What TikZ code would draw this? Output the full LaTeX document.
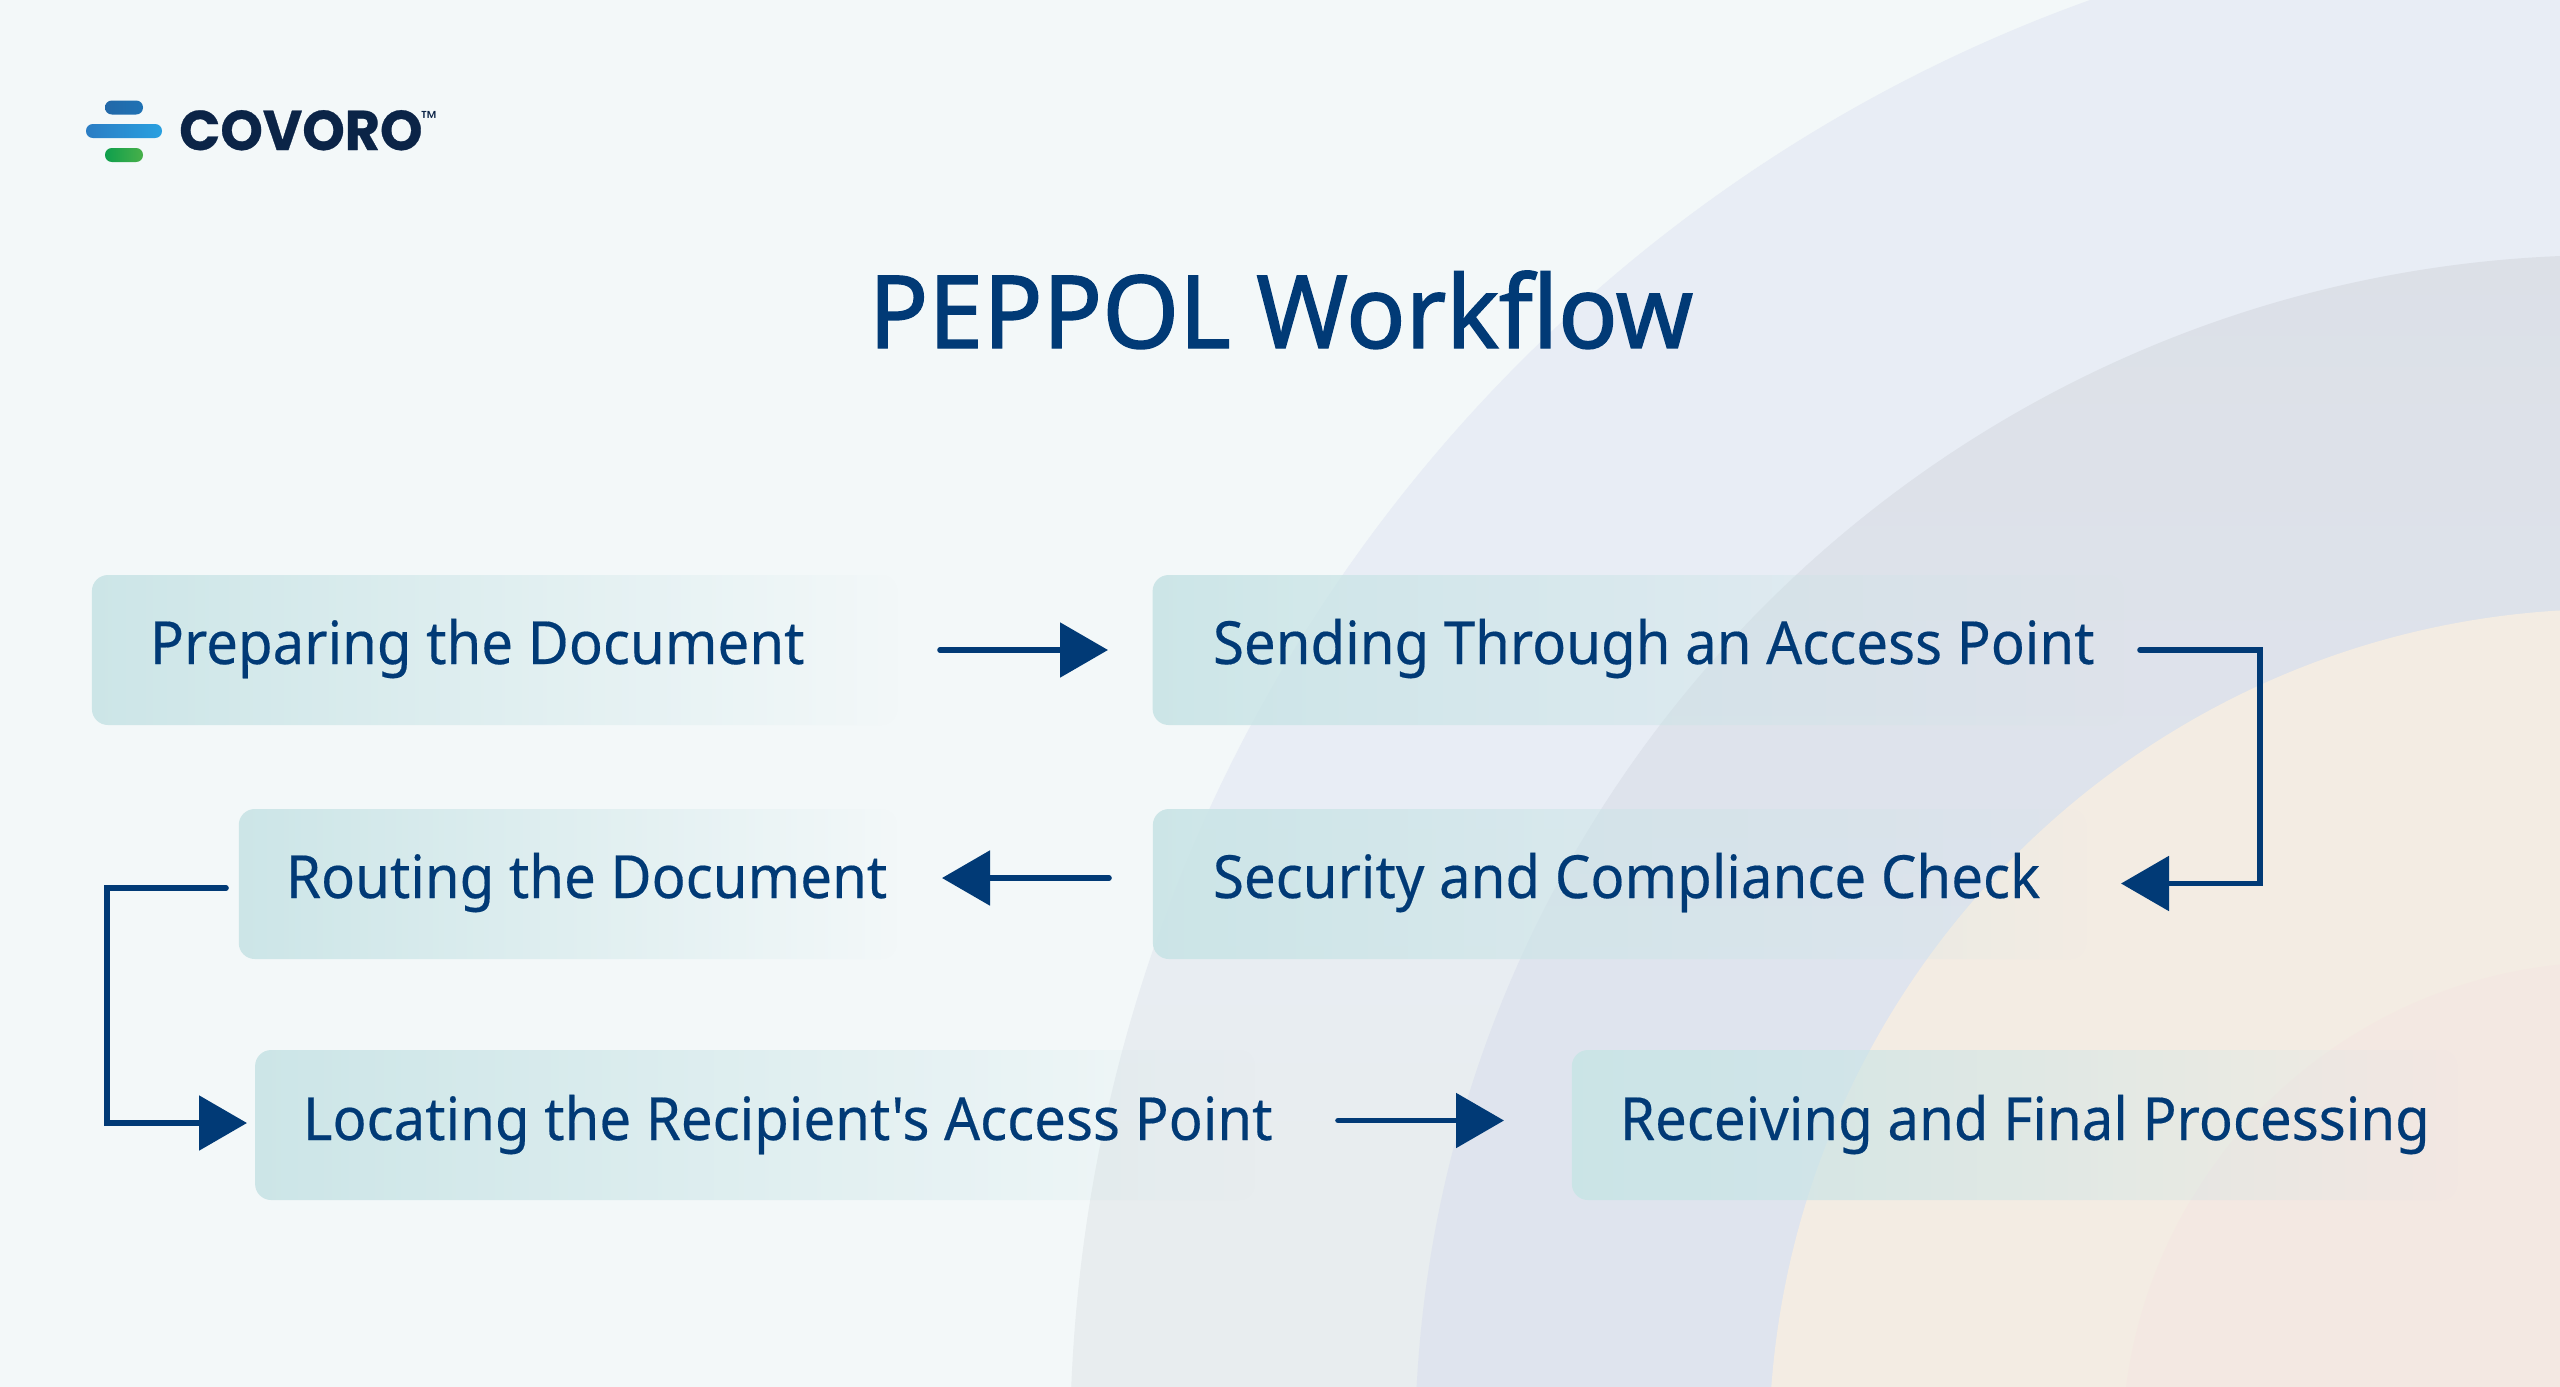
\documentclass[tikz,border=0pt]{standalone}
\usepackage{fontspec}
\setmainfont{Noto Sans}
\newfontfamily\stepfont{Noto Sans}[FakeStretch=0.947,FakeBold=0.3]
\newfontfamily\titlefont{Noto Sans}[FakeStretch=0.975,FakeBold=1.4]
\newfontfamily\logofont{Poppins Bold}[FakeStretch=0.965,FakeBold=0.5]
\newfontfamily\tmfont{Poppins}
\usetikzlibrary{arrows.meta,fadings}
\tikzfading[name=boxfade,left color=transparent!8,right color=transparent!100]
\definecolor{ink}{HTML}{013A76}
\definecolor{bgc}{HTML}{F3F8F9}
\definecolor{boxc}{HTML}{C9E4E6}
\definecolor{ringAa}{HTML}{E8EDEF}
\definecolor{ringAb}{HTML}{E8EDF5}
\definecolor{ringBa}{HTML}{DFE4EE}
\definecolor{ringBb}{HTML}{DCE0E7}
\definecolor{ringC}{HTML}{F3ECE3}
\definecolor{ringD}{HTML}{F3E8E2}
\definecolor{logoink}{HTML}{0B2447}
\definecolor{barAa}{HTML}{2268A8}
\definecolor{barAb}{HTML}{1F72B4}
\definecolor{barBa}{HTML}{2A7DC4}
\definecolor{barBb}{HTML}{29A0E0}
\definecolor{barCa}{HTML}{0E9F4C}
\definecolor{barCb}{HTML}{48B04A}
\tikzset{
  boxnode/.style={anchor=north west,inner sep=0pt,outer sep=0pt,rounded corners=16pt,fill=boxc,path fading=boxfade,minimum height=150pt},
  boxtext/.style={anchor=base west,inner sep=0pt,outer sep=0pt,text=ink,font=\stepfont\fontsize{59.5pt}{70pt}\selectfont},
  flow/.style={draw=ink,line width=5.6pt,line cap=round,-{Triangle[length=48pt,width=54pt]}},
  barnode/.style={anchor=north west,inner sep=0pt,outer sep=0pt,rounded corners=6.8pt,minimum height=14pt}
}
\begin{document}
\begin{tikzpicture}[x=1pt,y=-1pt]
\useasboundingbox (0,0) rectangle (2560,1387);
\begin{scope}
\clip (0,0) rectangle (2560,1387);
\fill[bgc] (0,0) rectangle (2560,1387);
\begin{scope}
\clip (2610,1450) circle (1540);
\fill[ringAb] (1060,0) rectangle (2560,800);
\shade[top color=ringAb,bottom color=ringAa] (1060,800) rectangle (2560,1150);
\fill[ringAa] (1060,1150) rectangle (2560,1387);
\end{scope}
\begin{scope}
\clip (2610,1450) circle (1195);
\shade[top color=ringBb,bottom color=ringBa] (1400,240) rectangle (2560,1000);
\fill[ringBa] (1400,1000) rectangle (2560,1387);
\end{scope}
\fill[ringC] (2610,1450) circle (841);
\fill[ringD] (2610,1450) circle (488);
\end{scope}
% logo
\node[barnode,minimum width=38pt,left color=barAa,right color=barAb] (bar1) at (105,100.5) {};
\node[barnode,minimum width=76pt,left color=barBa,right color=barBb] (bar2) at (86,124) {};
\node[barnode,minimum width=38pt,left color=barCa,right color=barCb] (bar3) at (105,148) {};
\node[anchor=base west,inner sep=0pt,text=logoink,font=\logofont\fontsize{56pt}{60pt}\selectfont] (logotext) at (179,150) {COVORO};
\node[anchor=base west,inner sep=0pt,text=logoink,font=\tmfont\fontsize{20pt}{24pt}\selectfont] (logotm) at (421,125) {™};
% title
\node[anchor=base,inner sep=0pt,text=ink,font=\titlefont\fontsize{101pt}{120pt}\selectfont] (title) at (1281,348) {PEPPOL Workflow};
% boxes
\node[boxnode,minimum width=806pt] (a) at (92,575) {};
\node[boxnode,minimum width=972pt] (b) at (1153,575) {};
\node[boxnode,minimum width=659pt] (c) at (239,809) {};
\node[boxnode,minimum width=934pt] (d) at (1153,809) {};
\node[boxnode,minimum width=1002pt] (e) at (256,1050) {};
\node[boxnode,minimum width=886pt] (f) at (1572,1050) {};
\node[boxtext] (at) at (150,664) {Preparing the Document};
\node[boxtext] (bt) at (1213,664) {Sending Through an Access Point};
\node[boxtext] (ct) at (286,898) {Routing the Document};
\node[boxtext] (dt) at (1213,898) {Security and Compliance Check};
\node[boxtext] (et) at (303,1140) {Locating the Recipient's Access Point};
\node[boxtext] (ft) at (1620,1140) {Receiving and Final Processing};
% connectors
\draw[flow,shorten <=42pt,shorten >=45pt] (a.east) -- (b.west);
\draw[flow,shorten <=44pt,shorten >=44pt] ([yshift=6pt]d.west) -- ([yshift=6pt]c.east);
\draw[flow,shorten <=13pt,shorten >=9pt] ([yshift=-4pt]c.west) -- ++(-132,0) |- ([yshift=2pt]e.west);
\draw[flow,shorten <=15pt,shorten >=34pt] (b.east) -- ++(135,0) |- ([yshift=0.5pt]d.east);
\draw[flow,shorten <=80pt,shorten >=68pt] ([yshift=4.5pt]e.east) -- ([yshift=4.5pt]f.west);
\end{tikzpicture}
\end{document}
